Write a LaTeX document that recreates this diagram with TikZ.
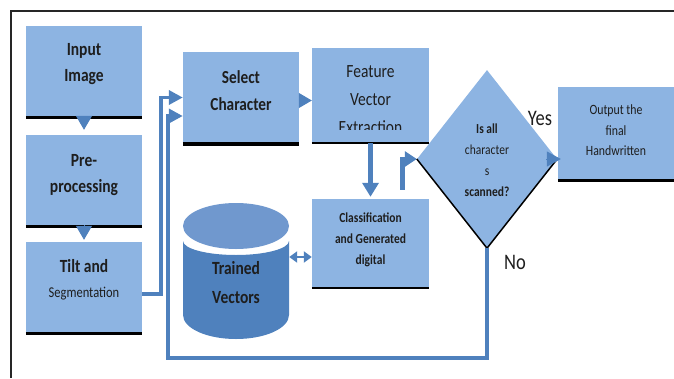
\documentclass[tikz,border=0pt]{standalone}
\usepackage{fontspec}
\setmainfont{Carlito}
\usepackage{graphicx}
\usetikzlibrary{shapes.geometric,arrows.meta}
\definecolor{boxblue}{RGB}{141,180,226}
\definecolor{arrblue}{RGB}{79,129,189}
\definecolor{cyltop}{RGB}{112,152,206}
\definecolor{cylbody}{RGB}{79,129,189}
\definecolor{txtc}{RGB}{30,30,30}
\newcommand{\tl}[1]{\scalebox{1}[1.2]{\begin{tabular}{@{}c@{}}#1\end{tabular}}}
\begin{document}
\begin{tikzpicture}[x=1pt,y=-1pt,
  box/.style={draw=none, fill=boxblue, inner sep=0pt, minimum width=116pt, minimum height=90pt},
  lbl/.style={text=txtc, align=center, inner sep=0pt},
  shadowline/.style={draw=black, line width=#1},
  arr/.style={draw=arrblue, line width=#1, -{Triangle[width=16pt,length=14pt]}},
  arr/.default=4pt
]
\useasboundingbox (0,0) rectangle (674,378);
% frame
\draw[line width=2.8pt, black!85] (11,378) -- (11,11) -- (674,11);

% boxes
\node[box] (input) at (84,71) {};
\node[box] (pre) at (84,180) {};
\node[box] (tilt) at (84,287) {};
\node[box, minimum height=91pt] (select) at (241,97.5) {};
\node[box, minimum width=117pt, minimum height=95pt] (feature) at (370.5,95.5) {};
\node[box, minimum width=117pt, minimum height=89pt] (class) at (370.5,243.5) {};
\node[box, minimum width=116pt, minimum height=92pt] (output) at (616,133) {};
\node[draw=none, fill=boxblue, shape=diamond, inner sep=0pt, minimum width=140pt, minimum height=178pt] (diam) at (487,159) {};

% box shadows
\draw[shadowline=3pt] ([yshift=-1pt]input.south west) -- ([yshift=-1pt]input.south east);
\draw[shadowline=3pt] ([yshift=-1pt]pre.south west) -- ([yshift=-1pt]pre.south east);
\draw[shadowline=3pt] ([yshift=-1pt]tilt.south west) -- ([yshift=-1pt]tilt.south east);
\draw[shadowline=3.5pt] ([yshift=-1pt]select.south west) -- ([yshift=-1pt]select.south east);
\draw[shadowline=1.5pt] (feature.south west) -- (feature.south east);
\draw[shadowline=1.5pt] (class.south west) -- (class.south east);
\draw[shadowline=3pt] ([yshift=-1pt]output.south west) -- ([yshift=-1pt]output.south east);
\draw[shadowline=1.5pt] (diam.west) -- (diam.south) -- (diam.east);

% cylinder
\node[inner sep=0pt, minimum width=106pt, minimum height=137pt] (cyl) at (236,270.5) {};
\fill[cylbody] (183,241) -- (183,315)
  .. controls (183,328.3) and (206.7,339) .. (236,339)
  .. controls (265.3,339) and (289,328.3) .. (289,315)
  -- (289,241)
  .. controls (289,248.7) and (265.3,255) .. (236,255)
  .. controls (206.7,255) and (183,248.7) .. (183,241) -- cycle;
\fill[cyltop] (236,226) ellipse [x radius=53, y radius=23];

% texts
\node[lbl, font=\bfseries\fontsize{15.5}{21.5}\selectfont] (inputT) at (84,63.5) {\tl{Input\\Image}};
\node[lbl, font=\bfseries\fontsize{15.5}{21.5}\selectfont] (preT) at (84,174) {\tl{Pre-\\processing}};
\node[lbl, font=\bfseries\fontsize{15.5}{21}\selectfont] (tiltT) at (84,280) {\tl{Tilt and\\{\mdseries\fontsize{12.5}{15}\selectfont Segmentation}}};
\node[lbl, font=\bfseries\fontsize{15.3}{22.5}\selectfont] (selectT) at (241,91.5) {\tl{Select\\Character}};
\begin{scope}
\clip (312,40) rectangle (429,129.5);
\node[lbl, font=\fontsize{15.5}{23}\selectfont] (featureT) at (370.5,100) {\tl{Feature\\Vector\\Extraction}};
\end{scope}
\node[lbl, font=\bfseries\fontsize{11.5}{17.5}\selectfont] (classT) at (370.5,239.5) {\tl{Classification\\and Generated\\digital}};
\node[lbl, font=\fontsize{11.5}{17.5}\selectfont] (diamT) at (487,160.5) {\tl{\textbf{Is all}\\character\\s\\\textbf{scanned?}}};
\node[lbl, font=\fontsize{11.8}{16.7}\selectfont] (outputT) at (616,131) {\tl{Output the\\final\\Handwritten}};
\node[lbl, font=\bfseries\fontsize{15.5}{23.7}\selectfont] (cylT) at (236,283.5) {\tl{Trained\\Vectors}};
\node[lbl, font=\fontsize{18.5}{22}\selectfont] (yes) at (540,118) {\scalebox{1}[1.2]{Yes}};
\node[lbl, font=\fontsize{18.5}{22}\selectfont] (no) at (515,262.5) {\scalebox{1}[1.2]{No}};

% connectors
\draw[arr=1pt] (input.south) -- ([yshift=5pt]pre.north);
\draw[arr=1pt] (pre.south) -- ([yshift=2pt]tilt.north);
\draw[arr=1pt, -{Triangle[width=15pt,length=13pt]}] ([yshift=-3pt]select.east) -- ([yshift=-3pt]select.east -| feature.west);
\draw[arr=5pt] (feature.south) -- ([yshift=2pt]class.north);
\draw[arr=4.5pt, -{Triangle[width=15pt,length=12pt]}] ([xshift=32pt,yshift=9pt]class.north) |- (diam.west);
\draw[arr=1pt, -{Triangle[width=15pt,length=14pt]}] ([xshift=-11pt]diam.east) -- ([xshift=3pt]diam.east -| output.west);
\draw[arr=3.5pt, -{Triangle[width=14pt,length=14pt]}] ([yshift=-7pt]tilt.east) -- ++(19,0) |- (select.west);
\coordinate (lc) at (168,358);
\draw[arr=4pt, -{Triangle[width=14pt,length=14pt]}] (diam.south) |- (lc) |- ([yshift=-18.5pt]select.west);
\draw[draw=arrblue, line width=2pt, {Triangle[width=11pt,length=8pt]}-{Triangle[width=11pt,length=8pt]}] ([yshift=13.5pt]cyl.east) -- ([yshift=-13.5pt]class.west);
\end{tikzpicture}
\end{document}
